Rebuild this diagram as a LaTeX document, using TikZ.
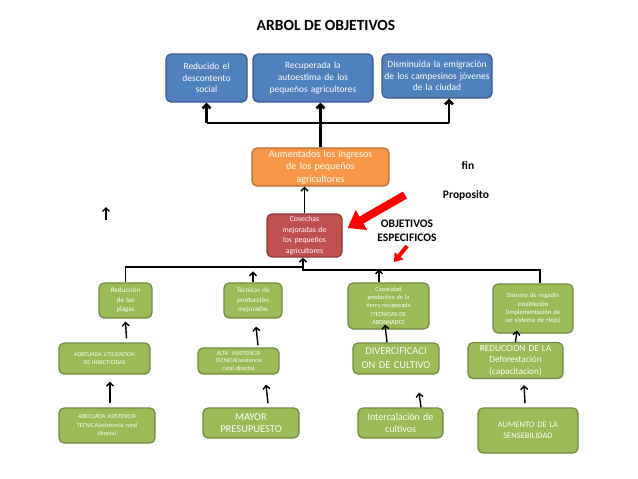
\documentclass[tikz,border=0pt]{standalone}
\usepackage{fontspec}
\setmainfont{Carlito}
\usetikzlibrary{arrows.meta}
\definecolor{bfill}{HTML}{4F81BD}
\definecolor{bdraw}{HTML}{385D8A}
\definecolor{ofill}{HTML}{F79646}
\definecolor{odraw}{HTML}{B66D31}
\definecolor{rfill}{HTML}{C0504D}
\definecolor{rdraw}{HTML}{8C3836}
\definecolor{gfill}{HTML}{9BBB59}
\definecolor{gdraw}{HTML}{71893F}
\begin{document}
\begin{tikzpicture}[x=1pt,y=-1pt,
  box/.style={rounded corners=5pt, line width=1.2pt, text=white, align=center, inner sep=0pt},
  bluebox/.style={box, fill=bfill, draw=bdraw, font=\fontsize{9.5}{11.7}\selectfont},
  orangebox/.style={box, fill=ofill, draw=odraw, font=\fontsize{10}{12.5}\selectfont},
  redbox/.style={box, fill=rfill, draw=rdraw, font=\fontsize{7.8}{10.5}\selectfont},
  greenbox/.style={box, fill=gfill, draw=gdraw},
  label/.style={font=\bfseries\fontsize{11.5}{14}\selectfont, align=center},
  arr/.style={line width=1.4pt, -{Straight Barb[length=3.5pt,width=7pt]}},
  thinline/.style={line width=1.3pt},
  thk/.style={line width=2.6pt},
  thkarr/.style={thk, -{Straight Barb[length=4pt,width=8pt]}},
  bigred/.style={red, line width=8pt, -{Triangle[length=16pt,width=22pt]}},
  smallred/.style={red, line width=4pt, -{Triangle[length=8pt,width=11pt]}}
]
\useasboundingbox (0,0) rectangle (638,479);
\fill[white] (0,0) rectangle (638,479);

% title and labels
\node[font=\bfseries\fontsize{15.5}{18}\selectfont] (T) at (326,25) {ARBOL DE OBJETIVOS};
\node[label] (fin) at (468,165) {fin};
\node[label] (prop) at (466,195) {Proposito};
\node[label] (oe) at (407,231) {OBJETIVOS\\ESPECIFICOS};

% top blue boxes
\node[bluebox, minimum width=81pt, minimum height=48pt, text width=78pt] (B1) at (206.5,78) {Reducido el\\descontento\\social};
\node[bluebox, minimum width=120pt, minimum height=48pt, text width=116pt] (B2) at (313,78) {Recuperada la\\autoestima de los\\pequeños agricultores};
\node[bluebox, minimum width=110pt, minimum height=44pt, text width=108pt] (B3) at (437,76) {Disminuida la emigración\\de los campesinos jóvenes\\de la ciudad};

% orange and red
\node[orangebox, minimum width=137pt, minimum height=38pt, text width=133pt] (O) at (320.5,167) {Aumentados los ingresos\\de los pequeños\\agricultores};
\node[redbox, minimum width=75pt, minimum height=43pt, text width=72pt] (R) at (304.5,235.5) {Cosechas\\mejoradas de\\los pequeños\\agricultores};

% green row 1
\node[greenbox, minimum width=53pt, minimum height=35pt, text width=50pt, font=\fontsize{7}{9.5}\selectfont] (G1) at (125.5,300.5) {Reducción\\de las\\plagas};
\node[greenbox, minimum width=58pt, minimum height=35pt, text width=55pt, font=\fontsize{7}{9.5}\selectfont] (G2) at (253,300.5) {Técnicas de\\producción\\mejoradas};
\node[greenbox, minimum width=81pt, minimum height=46pt, text width=78pt, font=\fontsize{6.2}{8.3}\selectfont] (G3) at (388.5,306) {Capacidad\\productiva de la\\tierra recuperada\\(TECNICAS DE\\ABONNADO)};
\node[greenbox, minimum width=80pt, minimum height=49pt, text width=77pt, font=\fontsize{6.6}{8.3}\selectfont] (G4) at (533,308.5) {Sistema de regadío\\establecido\\(implementación de\\un sistema de riejo)};

% green row 2
\node[greenbox, minimum width=91pt, minimum height=31pt, text width=88pt, font=\fontsize{6}{8.3}\selectfont] (G5) at (104.5,358.5) {ADECUADA UTILIZACION\\DE INSECTICIDAS};
\node[greenbox, minimum width=81pt, minimum height=26pt, text width=78pt, font=\fontsize{6}{7.5}\selectfont] (G6) at (238.5,361) {ALTA\ \ ASISTENCIA\\TECNICA(asistencia\\rural directa)};
\node[greenbox, minimum width=86pt, minimum height=31pt, text width=83pt, font=\fontsize{10.5}{14}\selectfont] (G7) at (396,358.5) {DIVERCIFICACI\\ON DE CULTIVO};
\node[greenbox, minimum width=95pt, minimum height=36pt, text width=92pt, font=\fontsize{9.3}{11.3}\selectfont] (G8) at (515.5,360.5) {REDUCCION DE LA\\Deforestación\\(capacitacion)};

% green row 3
\node[greenbox, minimum width=96pt, minimum height=35pt, text width=93pt, font=\fontsize{6}{8.3}\selectfont] (G9) at (107,425.5) {ADECUADA ASISTENCIA\\TECNICA(asistencia rural\\directa)};
\node[greenbox, minimum width=96pt, minimum height=30pt, text width=93pt, font=\fontsize{10.5}{12}\selectfont] (G10) at (251,423) {MAYOR\\PRESUPUESTO};
\node[greenbox, minimum width=85pt, minimum height=30pt, text width=82pt, font=\fontsize{10}{12}\selectfont] (G11) at (400.5,423) {Intercalación de\\cultivos};
\node[greenbox, minimum width=100pt, minimum height=45pt, text width=97pt, font=\fontsize{8.5}{11}\selectfont] (G12) at (528,430.5) {AUMENTO DE LA\\SENSEBILIDAD};

% top connectors
\coordinate (hj) at (321,123);
\coordinate (hr) at (449,123);
\draw[thkarr] (O.north) -- (O.north |- B2.south);
\draw[thk] (B1.south |- hj) -- (hr);
\draw[thkarr] (B1.south |- hj) -- (B1.south);
\draw[thkarr] (hr) -- (hr |- B3.south);

% red to orange
\draw[arr] (R.north) -- (R.north |- O.south);

% lower tree
\coordinate (lj) at (303,267);
\coordinate (rj) at (303,270);
\coordinate (rr) at (540,270);
\draw[arr] (rj) -- (rj |- R.south);
\draw[thinline] (G1.north) -- (G1.north |- lj) -- (lj) -- (rj) -- (rr) -- (rr |- G4.north);
\draw[arr] (G2.north) -- ([yshift=11pt]G2.north);
\draw[arr] ([xshift=-9.5pt]G3.north) -- ([xshift=-9.5pt,yshift=13pt]G3.north);

% between rows
\draw[arr] ([xshift=22pt,yshift=4pt]G5.north) -- ([yshift=-3pt]G1.south);
\draw[arr] ([xshift=3pt,yshift=4pt]G9.north) -- ([xshift=5.5pt,yshift=-7pt]G5.south);
\draw[arr] ([xshift=19.5pt,yshift=2pt]G6.north) -- ([xshift=3pt,yshift=-8pt]G2.south);
\draw[arr] ([xshift=17pt,yshift=4pt]G10.north) -- ([xshift=27.5pt,yshift=-10pt]G6.south);
\draw[arr] ([xshift=-9pt]G7.north) -- ([xshift=-3.5pt,yshift=5pt]G3.south);
\draw[arr] ([xshift=20.5pt]G11.north) -- ([xshift=23pt,yshift=-18pt]G7.south);
\draw[arr] (G8.north) -- ([xshift=-16pt,yshift=3pt]G4.south);
\draw[arr] ([xshift=-3pt,yshift=4pt]G12.north) -- ([xshift=8.5pt,yshift=-6pt]G8.south);

% small stray arrow
\coordinate (sa1) at (106,220);
\coordinate (sa2) at (106,207);
\draw[arr] (sa1) -- (sa2);

% red arrows
\coordinate (ra1) at (405,195);
\draw[bigred] (ra1) -- ([xshift=5pt,yshift=7.5pt]R.east);
\coordinate (rs1) at (407,246);
\coordinate (rs2) at (394,262);
\draw[smallred] (rs1) -- (rs2);
\end{tikzpicture}
\end{document}
